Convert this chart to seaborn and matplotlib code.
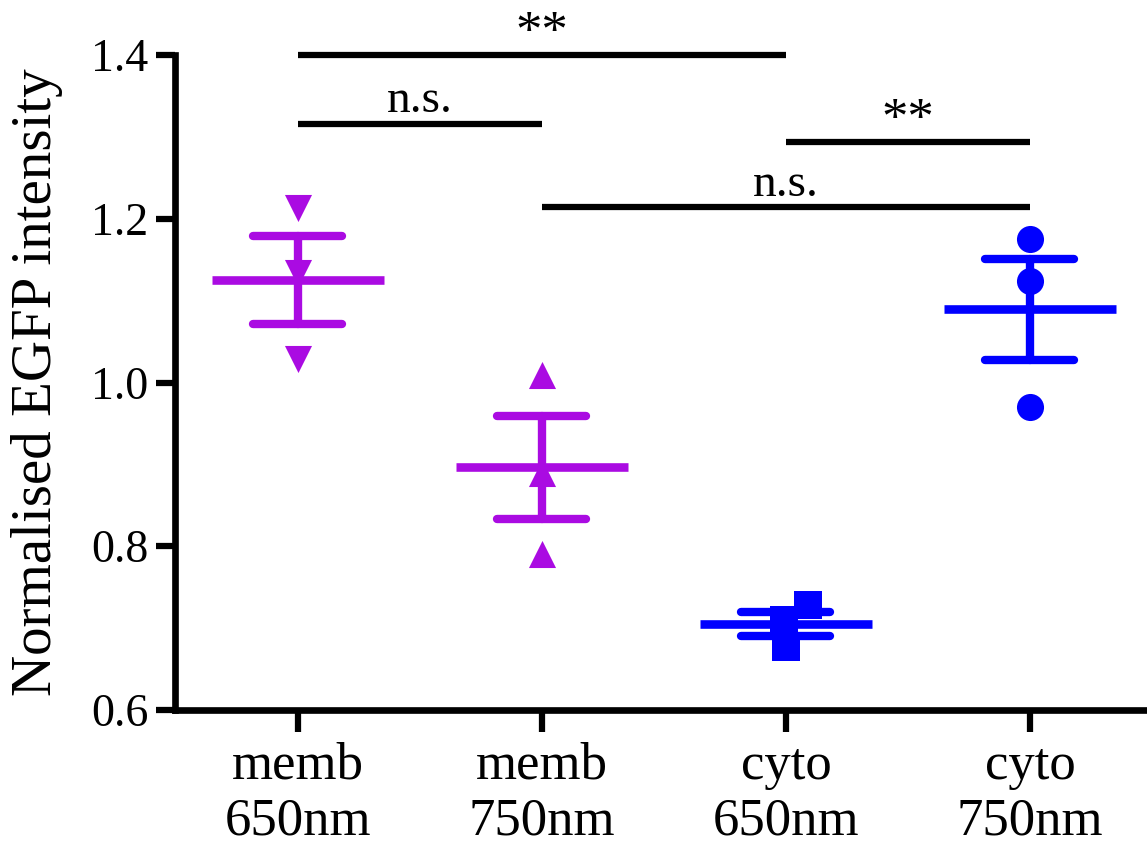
import numpy as np
import pandas as pd
import matplotlib
matplotlib.use("Agg")
import matplotlib.pyplot as plt
import seaborn as sns

# ---- data ----
categories = ["memb\n650nm", "memb\n750nm", "cyto\n650nm", "cyto\n750nm"]
memb_650 = [1.213, 1.134, 1.029]
memb_750 = [1.009, 0.889, 0.791]
cyto_650 = [0.728, 0.710, 0.677]
cyto_750 = [1.175, 1.124, 0.970]
markers = ["v", "^", "s", "o"]
colors = ["#AA0BE2", "#AA0BE2", "#0000FF", "#0000FF"]
y_ticks = [0.6, 0.8, 1.0, 1.2, 1.4]
ylabel = "Normalised EGFP intensity"
# significance comparisons: (group a, group b, bar height, label)
comparisons = [(0, 2, 1.400, "**"), (0, 1, 1.316, "n.s."),
               (2, 3, 1.294, "**"), (1, 3, 1.214, "n.s.")]

series = [memb_650, memb_750, cyto_650, cyto_750]
df = pd.DataFrame({
    "group": np.repeat(categories, [len(s) for s in series]),
    "value": np.concatenate(series),
})

sns.set_style("ticks")
plt.rcParams["font.family"] = ["Liberation Serif", "DejaVu Serif"]
for k in ["text.color", "axes.labelcolor", "xtick.color", "ytick.color",
          "axes.edgecolor"]:
    plt.rcParams[k] = "black"

fig = plt.figure(figsize=(11.47, 8.52), dpi=100)
ax = fig.add_axes([175 / 1147, 1 - 710 / 852, 1 - 175 / 1147, 655 / 852])

pal = dict(zip(categories, colors))

# mean line + SEM
sns.pointplot(data=df, x="group", y="value", hue="group", order=categories,
              hue_order=categories, palette=pal, errorbar="se", capsize=0.365,
              marker="_", markersize=124, markeredgewidth=6.2, linestyle="none",
              err_kws={"linewidth": 6}, legend=False, ax=ax, zorder=3)

# individual points
for cat, mk, col in zip(categories, markers, colors):
    sns.swarmplot(data=df[df["group"] == cat], x="group", y="value",
                  order=categories, marker=mk, color=col, size=19.5,
                  linewidth=0, ax=ax, zorder=4)

ax.set_xlim(-0.504, 3.48)
ax.set_ylim(0.6, 1.4)
ax.set_yticks(y_ticks)
ax.set_yticklabels([f"{t:.1f}" for t in y_ticks])
ax.set_xlabel("")
ax.set_ylabel(ylabel, fontsize=41, labelpad=20)
ax.tick_params(axis="y", labelsize=33, length=14, width=4.5, pad=5)
ax.tick_params(axis="x", labelsize=38, length=16, width=4.5, pad=7)
for lbl in ax.get_xticklabels():
    lbl.set_linespacing(1.2)

sns.despine(ax=ax)
for side in ["left", "bottom"]:
    ax.spines[side].set_linewidth(4.8)
    ax.spines[side].set_color("black")

# significance bars
for a, b, h, lab in comparisons:
    ax.plot([a, b], [h, h], color="black", linewidth=4.5, clip_on=False,
            solid_capstyle="butt")
    if lab == "**":
        ax.text((a + b) / 2, h + 0.010, lab, ha="center", va="baseline",
                fontsize=38, clip_on=False)
    else:
        ax.text((a + b) / 2, h + 0.014, lab, ha="center", va="baseline",
                fontsize=34, clip_on=False)

fig.savefig("out.png", dpi=100)
